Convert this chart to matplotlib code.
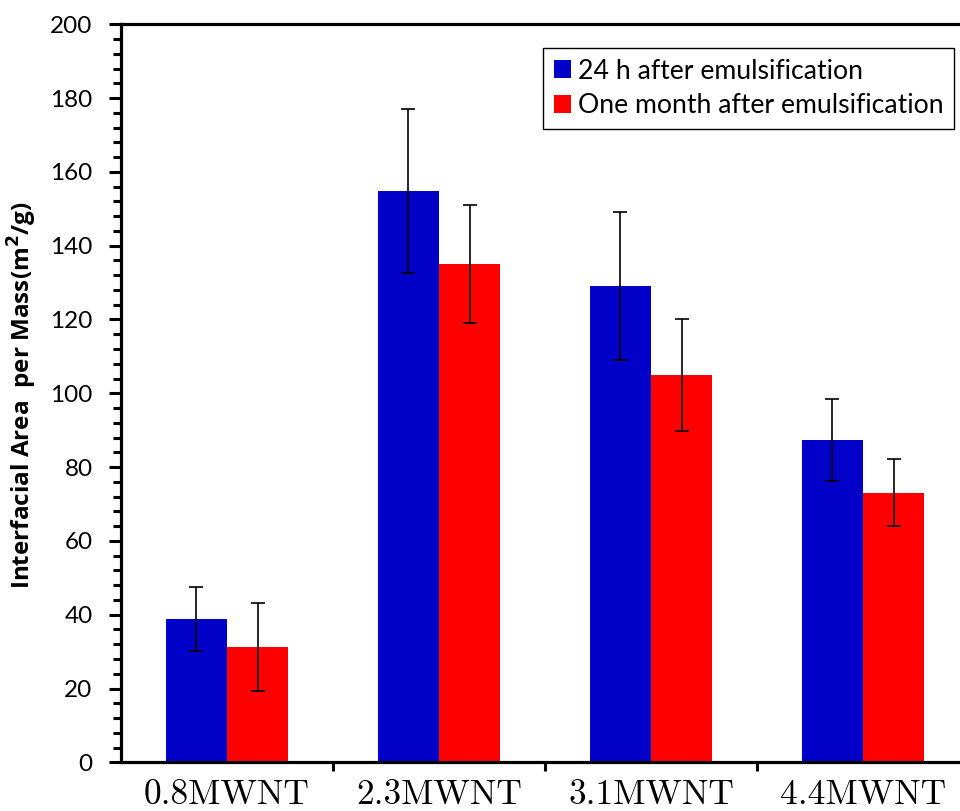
import matplotlib
matplotlib.use("Agg")
import matplotlib.pyplot as plt
import numpy as np
from matplotlib.ticker import MultipleLocator, FixedLocator

categories = ["0.8MWNT", "2.3MWNT", "3.1MWNT", "4.4MWNT"]
series_names = ["24 h after emulsification", "One month after emulsification"]
vals_24h = [38.8, 154.8, 129.0, 87.4]
err_24h = [8.7, 22.2, 20.0, 11.1]
vals_month = [31.3, 135.1, 105.0, 73.1]
err_month = [12.0, 16.0, 15.1, 9.0]

fig = plt.figure(figsize=(9.6, 8.11), dpi=100)
ax = fig.add_axes([121/960, 1-762.3/811, (969-121)/960, (762.3-24.3)/811])

x = np.arange(len(categories))
w = 0.29
ax.bar(x - w/2, vals_24h, w, color="#0000C8", label=series_names[0], zorder=2)
ax.bar(x + w/2, vals_month, w, color="#FF0000", label=series_names[1], zorder=2)
ax.errorbar(x - w/2, vals_24h, yerr=err_24h, fmt="none", ecolor="black",
            elinewidth=1.2, capsize=4.7, capthick=1.2, zorder=3)
ax.errorbar(x + w/2, vals_month, yerr=err_month, fmt="none", ecolor="black",
            elinewidth=1.2, capsize=4.7, capthick=1.2, zorder=3)

ax.set_xlim(-0.5, 3.5)
ax.set_ylim(0, 200)

for s in ["left", "bottom", "top"]:
    ax.spines[s].set_linewidth(2.3)
ax.spines["right"].set_visible(False)

ax.yaxis.set_major_locator(MultipleLocator(20))
ax.yaxis.set_minor_locator(MultipleLocator(4))
ax.tick_params(axis="y", which="major", direction="out", length=8.5, width=2.2,
               pad=12, labelsize=17.5)
ax.tick_params(axis="y", which="minor", direction="out", length=6, width=2.2)
for lab in ax.get_yticklabels():
    lab.set_fontfamily("Lato")

ax.set_xticks(x)
ax.set_xticklabels(categories, fontfamily="cmr10", fontsize=25.5)
ax.xaxis.set_minor_locator(FixedLocator([0.5, 1.5, 2.5]))
ax.tick_params(axis="x", which="major", length=0, pad=12)
ax.tick_params(axis="x", which="minor", direction="out", length=6.5, width=2.2)

fig.text(22/960, 1-395/811, "Interfacial Area  per Mass(m$^{\\mathbf{2}}$/g)",
         rotation=90, ha="center", va="center", fontsize=17.5,
         fontweight="bold", fontfamily="Open Sans")

leg = ax.legend(loc="upper right", bbox_to_anchor=(954/960, 1-48/811),
                bbox_transform=fig.transFigure, borderaxespad=0,
                prop={"family": "Lato", "size": 19.2}, fancybox=False,
                edgecolor="black", framealpha=1, handlelength=0.65,
                handleheight=0.65, handletextpad=0.25, labelspacing=0.35,
                borderpad=0.4)
leg.get_frame().set_linewidth(1.0)

fig.savefig("out.png", dpi=100)
